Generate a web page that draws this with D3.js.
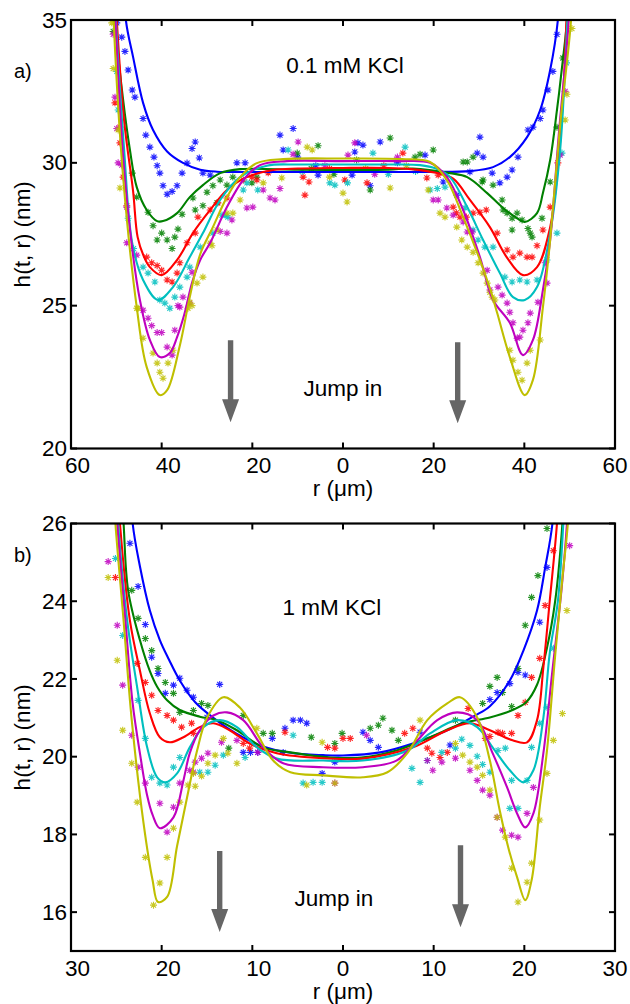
<!DOCTYPE html>
<html>
<head>
<meta charset="utf-8">
<script src="https://cdn.jsdelivr.net/npm/d3@7"></script>
<style>
  body { margin: 0; background: #fff; }
  svg { display: block; }
  text { font-family: "Liberation Sans", Arial, Helvetica, sans-serif; fill: #000; }
</style>
</head>
<body>
<svg id="fig" width="630" height="1004"></svg>
<script>
// ---------- Panel a: 0.1 mM KCl, film thickness h(t, r) vs radius ----------
const aTicksX = [-60, -40, -20, 0, 20, 40, 60];
const aTicksY = [20, 25, 30, 35];

const aBlueFit = [[-49,38],[-47.9,35],[-46.3,33.7],[-44.1,32.1],[-41.9,31.15],[-38.8,30.4],[-35.3,30.0],[-31.5,29.76],[-27.8,29.69],[-20,29.68],[-10,29.68],[0,29.68],[10,29.68],[20,29.68],[28,29.71],[33.1,29.85],[36.8,30.2],[40.6,30.9],[43.5,31.85],[45.7,33.25],[47.4,35],[48.3,38]];
const aGreenFit = [[-51,38],[-50.3,35],[-48.5,32.2],[-47,30.45],[-45.5,29.15],[-43.3,28.35],[-41,27.96],[-39.7,27.96],[-36.6,28.24],[-33.8,28.8],[-30.9,29.22],[-27.1,29.64],[-22.7,29.78],[-10,29.76],[0,29.75],[10,29.76],[15.4,29.8],[23.6,29.64],[27.4,29.5],[31.8,28.94],[35.3,28.42],[38.4,28.06],[40.1,27.93],[42.8,28.24],[44.1,28.94],[45.7,30.1],[47.2,31.85],[48.5,33.6],[49.4,35],[50,38]];
const aRedFit = [[-50.8,38],[-49.9,35],[-48.3,31.5],[-46.3,29.0],[-45.3,27.4],[-44,26.75],[-42.6,26.35],[-40,26.07],[-36.6,26.6],[-33.1,27.54],[-29.3,28.35],[-25.6,29.05],[-21.2,29.5],[-15.4,29.75],[-10,29.8],[0,29.82],[10,29.82],[15,29.78],[20.5,29.65],[24.3,29.45],[28,28.7],[32.4,27.75],[36.1,26.7],[39.7,26.07],[42.8,26.35],[45.7,27.75],[47.4,29.85],[48.5,32.2],[49.3,35],[50,38]];
const aCyanFit = [[-50.9,38],[-50.1,35],[-48.3,30.5],[-46.5,27.2],[-44.1,25.9],[-40.8,25.2],[-37.5,25.65],[-33.8,26.7],[-30.9,27.54],[-27.1,28.7],[-22.7,29.5],[-16.8,29.9],[-10,29.94],[0,29.94],[10,29.94],[17,29.92],[20.5,29.8],[23.6,29.5],[27.4,28.45],[30.9,27.3],[34.6,26.14],[37.5,25.3],[40.1,25.2],[42.8,25.65],[45.7,27.54],[47.9,30.45],[49.5,35],[50.3,38]];
const aMagentaFit = [[-50.9,38],[-50.2,35],[-48.5,30.2],[-46.5,27.0],[-44.8,25.2],[-42.6,23.8],[-40.4,23.2],[-38.2,23.34],[-36.6,23.9],[-35,24.7],[-33.3,25.8],[-31.5,26.6],[-29.3,27.2],[-25.6,28.45],[-22,29.4],[-18.3,29.92],[-12.4,30.06],[0,30.06],[12,30.06],[19.2,30.0],[22.9,29.5],[26.5,28.35],[30.2,26.7],[33.1,25.2],[36.8,24.4],[39.7,23.27],[41.9,23.8],[44.1,25.55],[45.7,27.3],[47.6,31],[49.8,35],[50.5,38]];
const aYellowFit = [[-51.2,38],[-50.6,35],[-48.5,29.5],[-45.5,24.95],[-43.3,22.85],[-40.4,21.87],[-38.8,22.04],[-36,23.6],[-33.8,25.3],[-31.5,26.8],[-28.7,27.75],[-25.6,28.8],[-22.7,29.5],[-19,29.99],[-13.2,30.13],[0,30.15],[13,30.13],[19.2,30.03],[22.9,29.4],[26.5,28.1],[30.2,26.6],[32.4,25.6],[34,24.75],[36.8,23.2],[40.1,21.87],[41.9,22.4],[44.1,24.95],[45.7,27.3],[48,31.5],[50.3,35],[51,38]];

const aBluePts = [[-49.9,34.9],[-48.8,34.4],[-48.1,33.9],[-47.4,33.25],[-46.5,32.55],[-45.9,32.3],[-44.1,31.55],[-43.5,30.97],[-42.6,30.55],[-41.7,30.2],[-41,29.9],[-40.4,29.64],[-39.7,29.2],[-38.8,28.9],[-37.7,29.0],[-36.6,29.2],[-35.5,29.64],[-34.4,29.99],[-33.3,30.5],[-32.6,30.73],[-31.7,30.17],[-30.9,29.64],[-29.3,29.57],[-23.4,30.0],[-21.6,30.0],[-13.9,30.97],[-11,31.2],[-13.2,30.45],[-10,30.2],[-6,29.9],[-5.5,29.57],[2.6,30.38],[3.3,30.7],[2,29.57],[4.4,30.62],[6,29.2],[8.2,30.73],[12,30.0],[18.1,30.27],[22.1,29.33],[25.1,28.87],[28,29.68],[29.6,30.34],[30.2,30.9],[30.9,30.2],[32.9,29.64],[34.6,29.3],[36.2,29.5],[37.3,29.75],[38.6,30.2],[40.8,31.15],[41.9,31.25],[43.5,31.55],[44.1,31.85],[45.2,32.55],[46.3,33.2],[47.2,34.5]];
const aGreenPts = [[-50.7,34.6],[-46.5,29.64],[-45.5,28.8],[-43,28.27],[-41.9,27.8],[-41,27.3],[-40,27.54],[-38.8,27.3],[-37.7,27.0],[-37.1,27.4],[-36.4,27.68],[-35.5,28.2],[-33.1,28.77],[-32.6,28.35],[-30.9,28.5],[-30,28.97],[-28.7,29.2],[-27.8,28.6],[-27.1,29.4],[-25.6,29.22],[-24.3,29.5],[-20.1,29.3],[-19,29.5],[-10.1,30.34],[-5.5,30.6],[-7,29.8],[-2,29.6],[3,30.1],[6,29.05],[10.4,30.87],[15.9,30.2],[17,30.3],[19.9,30.45],[26.5,30.03],[27.4,30.03],[28.7,30.2],[30.7,29.33],[30.9,29.4],[33.1,29.22],[35.1,28.7],[35.3,28.35],[36.2,28.24],[37.3,27.65],[37.3,28.06],[38.4,28.24],[39.5,28.0],[40.8,27.7],[41.3,27.54],[41.7,27.4],[43.9,28.06],[45.7,29.33],[47.2,31.25],[48.5,33.67]];
const aRedPts = [[-50.3,32.1],[-49.2,31.25],[-49.2,30.7],[-48.5,29.5],[-47.7,28.5],[-43.3,26.7],[-42.2,26.5],[-41,26.4],[-40,26.24],[-38.8,25.9],[-37.7,25.83],[-36.6,26.14],[-36,26.5],[-34.4,27.2],[-32.6,27.54],[-32,28.1],[-29.3,28.35],[-27.6,28.6],[-25.6,28.77],[-22,29.4],[-20.1,29.5],[-19,29.4],[-16.5,29.65],[-8.8,29.5],[-7.5,29.33],[-8.4,28.87],[-3,29.8],[0.4,29.4],[5.3,29.3],[9,29.9],[13.2,30.34],[18.5,29.47],[21,29.57],[24.3,28.45],[25,28.25],[25.8,28.1],[27.2,28.1],[28.7,28.24],[30.2,28.27],[31.6,28.35],[34,27.54],[36.2,26.95],[37.5,26.7],[39,26.84],[40.6,26.7],[41.7,26.7],[42.8,27.1],[44.1,27.65],[45.7,28.45],[47.4,30.0]];
const aCyanPts = [[-49.6,31.85],[-49.9,33.2],[-47.4,28.06],[-46.2,27.0],[-44.1,26.35],[-43,26.14],[-41.5,25.83],[-40.4,25.2],[-39.3,25.09],[-38.2,24.91],[-37.1,25.3],[-36,25.65],[-34.4,26.0],[-33.8,26.35],[-31.5,27.05],[-28.7,27.54],[-26.7,28.17],[-26,28.17],[-25.4,28.1],[-22,29.05],[-21.2,29.3],[-18.8,29.05],[-12.1,30.45],[-9,29.7],[-2.9,29.3],[-1.8,29.22],[1,29.3],[6.6,30.34],[10,29.6],[13.7,30.55],[16,29.7],[19.2,29.05],[20.8,29.1],[22.5,29.15],[26.9,28.42],[28.7,27.65],[29.8,27.3],[31.3,27.05],[33.1,27.05],[35.7,26.0],[37.3,25.83],[39,25.9],[40.6,25.83],[42.8,25.9],[45,26.6],[47.2,27.54],[48.3,30.34],[49.3,33.5]];
const aMagentaPts = [[-50.7,34.5],[-50.3,32.3],[-49.9,31.2],[-49.6,30.0],[-48.8,29.92],[-47.7,28.45],[-47.7,27.2],[-45.5,26.77],[-44.1,24.84],[-43,24.56],[-42.2,24.3],[-41,24.06],[-40,24.06],[-38.8,23.55],[-37.7,23.27],[-37.1,24.14],[-36.4,25.0],[-36,24.95],[-35.3,25.3],[-33.8,25.09],[-33.3,26.17],[-27.1,27.6],[-25.6,27.54],[-24.5,28.0],[-21.2,28.42],[-19.9,28.45],[-17.6,29.05],[-16.1,28.77],[-15,28.7],[-13.9,29.1],[-9.9,30.73],[-11,30.3],[-4,29.9],[1.1,30.27],[2.6,30.7],[7,29.6],[12,30.2],[19.9,28.7],[21,28.7],[22.9,28.42],[24.3,28.17],[26.5,27.93],[27.4,27.58],[28.5,27.58],[31.8,26.24],[32.4,25.55],[34.2,25.65],[35.1,25.37],[36.2,25.09],[36.8,24.77],[37.5,24.4],[38.4,23.86],[39,23.9],[39.7,24.14],[40.8,24.4],[41.3,24.74],[43,25.12],[44.6,26.5],[45,25.79],[47.9,30.27],[49,32.5]];
const aYellowPts = [[-51,34.9],[-50.7,33.3],[-49.6,31.15],[-49.2,29.12],[-45.5,24.91],[-45.2,24.91],[-44.1,23.86],[-41.9,23.34],[-41,22.99],[-40.4,22.67],[-39.7,22.46],[-38.6,22.99],[-37.5,23.44],[-34.2,24.91],[-33.8,25.12],[-33.3,25.0],[-32.2,25.79],[-30.9,26.0],[-29.3,27.19],[-28.9,27.1],[-27.8,27.65],[-25.6,28.24],[-24.3,28.24],[-22.7,28.7],[-17.6,29.3],[-13.5,29.47],[-7.9,30.55],[-6.8,30.45],[0,28.94],[0.9,28.63],[-3,29.5],[5,29.8],[10.4,29.12],[14,29.9],[18.8,29.05],[21.4,28.24],[22.5,28.1],[25.1,27.75],[26.2,27.3],[27.4,27.05],[28.7,26.87],[29.8,26.5],[30.9,26.14],[31.8,25.79],[32.4,25.47],[33.5,25.2],[32.9,25.3],[36.8,23.44],[37.5,23.09],[38.6,22.67],[39.5,22.39],[40.6,22.99],[41.3,23.44],[43.5,23.8],[49,31.5],[49.4,32.4],[50.5,34.7]];

// ---------- Panel b: 1 mM KCl ----------
const bTicksX = [-30, -20, -10, 0, 10, 20, 30];
const bTicksY = [16, 18, 20, 22, 24, 26];

const bBlueFit = [[-23.7,28],[-23.2,26],[-22.4,24.9],[-21.3,23.76],[-20.2,23.0],[-19.2,22.5],[-18,21.96],[-16.3,21.4],[-14.3,21.0],[-11.8,20.6],[-8.8,20.26],[-5.8,20.1],[-2.2,20.04],[0,20.03],[4.1,20.11],[7.7,20.34],[11.5,20.68],[14.5,21.05],[16.2,21.3],[18.4,21.96],[19.9,22.73],[21.4,23.76],[22.3,24.87],[23.1,26],[23.6,28]];
const bGreenFit = [[-24.7,28],[-24.2,26],[-23.7,24.28],[-22.4,23],[-21.3,22.2],[-20.5,21.8],[-19.4,21.45],[-18,21.2],[-15.8,21.03],[-13.9,20.94],[-11.7,20.68],[-8.8,20.24],[-5.8,20.11],[-1.4,19.98],[2,19.98],[5.9,20.16],[9.6,20.5],[13.2,20.86],[16.2,21.01],[18.7,21.2],[20.2,21.4],[21.4,21.85],[22.5,22.8],[23.4,24],[24.2,26],[24.6,28]];
const bRedFit = [[-25.1,28],[-24.6,26],[-23.5,23.5],[-22.4,22.22],[-21.3,21.11],[-20.2,20.5],[-19.1,20.37],[-17.6,20.5],[-15.8,20.76],[-14.3,20.86],[-12.5,20.68],[-10.3,20.34],[-7.3,20.09],[-2.2,19.96],[2.2,19.95],[7.7,20.24],[11.5,20.68],[14,20.86],[16.2,20.68],[18.7,20.42],[20.3,20.37],[21.4,20.94],[22.1,22.3],[22.8,24],[23.6,26],[24.1,28]];
const bCyanFit = [[-25.3,28],[-24.8,26],[-23.8,23.5],[-22.7,21.78],[-21.6,20.24],[-20.5,19.47],[-19.6,19.34],[-18.3,19.57],[-16.9,20.24],[-15.4,20.76],[-13.6,20.94],[-11.7,20.76],[-9.5,20.24],[-7.3,19.95],[-2.2,19.9],[2.2,19.9],[7.1,20.16],[9.6,20.6],[12.6,20.94],[14.8,20.76],[16.5,20.24],[18.4,19.65],[19.9,19.34],[21,19.65],[22.1,21.0],[22.8,22.66],[23.7,24],[24.3,26],[24.7,28]];
const bMagentaFit = [[-25.4,28],[-24.9,26],[-24,23.5],[-23.2,21.37],[-22.4,20.09],[-21.6,19.0],[-21,18.5],[-20.2,18.16],[-18.7,18.44],[-17.6,19.39],[-16.9,20.09],[-15.8,20.68],[-14.3,21.06],[-12.8,21.14],[-11,20.94],[-8.8,20.24],[-6.6,19.83],[-2.2,19.73],[2.2,19.73],[5.9,19.9],[8.2,20.42],[10.4,20.94],[12.6,21.14],[14.8,20.94],[16.5,20.09],[18.1,19.21],[19.2,18.54],[20.1,18.18],[21,18.54],[22.1,20.09],[23.1,22.22],[24.1,24.3],[24.7,26],[25.1,28]];
const bYellowFit = [[-25.6,28],[-25.1,26],[-24.2,23.5],[-23.3,20.94],[-22,18.29],[-21,16.82],[-20.4,16.26],[-19.4,16.39],[-18.3,17.7],[-17.2,18.95],[-16.1,20.15],[-15,21.0],[-13.2,21.53],[-11.4,21.27],[-9.5,20.6],[-7.7,19.9],[-5.8,19.6],[-2.2,19.52],[2.2,19.47],[4.9,19.6],[7.1,20.09],[9.3,20.94],[11.5,21.37],[12.9,21.53],[14.8,21.01],[16.2,19.9],[17.3,18.6],[18.3,17.6],[19.2,16.9],[20.1,16.31],[20.8,16.82],[21.7,18.7],[22.5,20.16],[23.4,22.6],[24.2,24.6],[24.8,26],[25.2,28]];

const bBluePts = [[-23.5,25.49],[-22.6,24.38],[-21.8,23.4],[-21.1,22.56],[-20.4,22.14],[-19.6,21.63],[-18.7,21.84],[-18,22.02],[-17.2,21.71],[-16.5,21.53],[-15,21.01],[-13.6,21.86],[-11,20.11],[-10.2,20.11],[-9.4,20.11],[-7.8,20.47],[-6.6,20.11],[-6.4,20.73],[-5.5,20.94],[-4.7,20.94],[-4,20.86],[-2.3,19.57],[-0.9,19.86],[2.2,20.63],[3,20.42],[3.9,20.24],[8.5,20.63],[11.8,20.3],[16.2,21.47],[17,21.65],[18.4,21.88],[19.3,22.17],[20.1,22.1],[21.7,23.46],[22.5,24.87]];
const bGreenPts = [[-23.3,24.28],[-22.6,23.56],[-21.8,23.04],[-21.1,22.73],[-20.4,22.27],[-19.6,21.91],[-18.7,21.63],[-18,21.14],[-16.5,21.19],[-15.6,21.37],[-14.9,21.32],[-11,21.06],[-12.6,20.22],[-8.8,20.6],[-7.8,20.6],[-3.5,20.5],[-0.9,20.34],[-0.1,20.6],[3,20.73],[3.9,20.81],[4.4,20.99],[5.4,20.68],[6.1,20.42],[12.4,20.94],[15.4,21.37],[16.2,21.81],[17,22.04],[17.6,21.65],[18.6,21.29],[19.3,22.27],[20.1,23.38],[20.8,24.1],[21.5,24.66],[22.5,25.87]];
const bRedPts = [[-25.1,24.61],[-22.7,22.4],[-21.8,21.91],[-21.1,21.58],[-20.4,21.19],[-19.4,21.06],[-18.7,20.94],[-17.8,20.76],[-16.7,20.86],[-16.5,20.6],[-11,20.34],[-10.3,20.22],[-6.4,20.63],[-1.7,20.24],[-0.9,20.22],[0,20.47],[0.8,20.47],[6.8,20.6],[7.7,20.73],[9.3,20.22],[9.8,20.09],[10.7,19.98],[11.5,20.11],[13.8,21.24],[15.7,20.47],[16.2,20.52],[17.1,20.63],[17.6,20.6],[18.6,20.6],[19.3,21.06],[20.1,21.4],[20.8,22.04],[21.7,22.53],[22.3,23.89],[23.2,25.3]];
const bCyanPts = [[-25.1,25.1],[-24.3,23.12],[-22.6,21.45],[-21.8,20.47],[-21.1,19.47],[-20.2,19.32],[-19.4,19.27],[-18.7,19.73],[-18,19.98],[-15.8,19.6],[-14.9,19.6],[-14.1,19.78],[-13.2,20.04],[-10.8,19.98],[-5.5,20.55],[-4.4,19.32],[-3.3,19.34],[-2.3,19.34],[7.6,19.7],[8.5,19.34],[9.3,19.9],[10.9,20.11],[12.4,20.22],[13.1,20.45],[14,20.29],[14.8,20.01],[15.4,19.8],[16.2,19.6],[17.1,20.16],[17.9,20.22],[18.4,18.67],[18.6,19.39],[19.3,18.67],[20.3,19.39],[20.8,20.24],[21.7,20.86],[22.5,21.27],[23.2,22.79]];
const bMagentaPts = [[-25.9,25.02],[-24.9,23.38],[-24.3,21.84],[-23.3,20.55],[-22.6,19.73],[-21.8,19.32],[-20.2,18.8],[-19.4,18.06],[-18.7,18.7],[-18,19.32],[-16.9,19.65],[-16.5,19.6],[-16.3,19.86],[-15.6,19.96],[-14.9,20.09],[-13.4,20.37],[-11.7,20.42],[-9.4,20.11],[-0.9,19.32],[2.6,20.55],[9.3,19.9],[9.9,19.65],[10.9,19.86],[12.4,19.96],[14,19.65],[14.8,19.39],[15.4,19.14],[16.2,19.01],[17,18.44],[17.6,18.11],[18.6,17.98],[19.3,17.93],[20.3,18.54],[21,19.21],[25,25.43]];
const bYellowPts = [[-25.9,24.61],[-24.9,22.48],[-24.3,20.68],[-23.3,19.83],[-22.7,18.83],[-21.8,17.41],[-20.9,16.18],[-20.2,16.75],[-19.4,17.41],[-18.7,18.16],[-18,18.83],[-17.1,19.27],[-16.5,19.57],[-16.3,19.24],[-15.6,19.5],[-14.9,19.83],[-14.1,20.04],[-13.2,20.47],[-12.7,20.09],[-11.7,19.83],[-9.5,20.73],[-4,19.27],[-2.3,20.37],[-0.9,19.32],[8.5,20.94],[12.4,20.34],[13.2,20.04],[14,19.86],[14.8,19.73],[15.4,19.52],[16.2,19.14],[17,18.44],[17.9,17.93],[18.6,17.13],[19.3,16.26],[20.3,16.77],[20.8,17.26],[21.7,18.37],[22.5,19.57],[23.2,20.42],[24.2,21.11],[24.7,23.76]];

// "Jump in" arrows: [r, shaft top h, tip h]
const aArrows = [[-24.8, 23.79, 20.92], [25.3, 23.72, 20.88]];
const bArrows = [[-13.6, 17.57, 15.49], [12.96, 17.72, 15.61]];

const seriesColors = ["#0000ff", "#008000", "#ff0000", "#00bfbf", "#bf00bf", "#bfbf00"];

const panels = [
  {
    id: "a", tag: "a)", salt: "0.1 mM KCl",
    xDomain: [-60, 60], yDomain: [20, 35], ticksX: aTicksX, ticksY: aTicksY,
    top: 20, bottom: 448.5,
    fits: [aBlueFit, aGreenFit, aRedFit, aCyanFit, aMagentaFit, aYellowFit],
    pts: [aBluePts, aGreenPts, aRedPts, aCyanPts, aMagentaPts, aYellowPts],
    arrows: aArrows, saltY: 73, jumpY: 396, jumpX: 343, saltX: 345, tagY: 78
  },
  {
    id: "b", tag: "b)", salt: "1 mM KCl",
    xDomain: [-30, 30], yDomain: [15, 26], ticksX: bTicksX, ticksY: bTicksY,
    top: 523.5, bottom: 951,
    fits: [bBlueFit, bGreenFit, bRedFit, bCyanFit, bMagentaFit, bYellowFit],
    pts: [bBluePts, bGreenPts, bRedPts, bCyanPts, bMagentaPts, bYellowPts],
    arrows: bArrows, saltY: 615, jumpY: 906, jumpX: 334, saltX: 332, tagY: 562
  }
];

const svg = d3.select("#fig");
const left = 71, right = 615;
const FS = 22.5;

// asterisk marker (plus + cross)
const star = "M-3.5,0H3.5M0,-3.5V3.5M-2.5,-2.5L2.5,2.5M-2.5,2.5L2.5,-2.5";

panels.forEach(p => {
  const x = d3.scaleLinear().domain(p.xDomain).range([left, right]);
  const y = d3.scaleLinear().domain(p.yDomain).range([p.bottom, p.top]);
  const g = svg.append("g");

  g.append("clipPath").attr("id", "clip-" + p.id)
    .append("rect").attr("x", left).attr("y", p.top)
    .attr("width", right - left).attr("height", p.bottom - p.top);

  const plot = g.append("g").attr("clip-path", `url(#clip-${p.id})`);

  // measured points
  p.pts.forEach((pts, i) => {
    plot.append("g").selectAll("path").data(pts).join("path")
      .attr("d", star)
      .attr("transform", d => `translate(${x(d[0])},${y(d[1])})`)
      .attr("fill", "none")
      .attr("stroke", seriesColors[i])
      .attr("stroke-width", 1.1)
      .attr("stroke-opacity", 0.85);
  });

  // fitted profiles
  const line = d3.line().x(d => x(d[0])).y(d => y(d[1])).curve(d3.curveCatmullRom.alpha(0.5));
  p.fits.forEach((fit, i) => {
    plot.append("path").datum(fit)
      .attr("d", line)
      .attr("fill", "none")
      .attr("stroke", seriesColors[i])
      .attr("stroke-width", 2.1)
      .attr("stroke-linejoin", "round");
  });

  // arrows
  p.arrows.forEach(a => {
    const cx = x(a[0]), y0 = y(a[1]), yt = y(a[2]);
    const hl = 23, hw = 8.5, sw = 2.7;
    g.append("path")
      .attr("d", `M${cx - sw},${y0}H${cx + sw}V${yt - hl}H${cx + hw}L${cx},${yt}L${cx - hw},${yt - hl}H${cx - sw}Z`)
      .attr("fill", "#666666");
  });

  // box + inward ticks
  g.append("rect").attr("x", left).attr("y", p.top)
    .attr("width", right - left).attr("height", p.bottom - p.top)
    .attr("fill", "none").attr("stroke", "#000").attr("stroke-width", 2.2);

  const tl = 6;
  p.ticksX.forEach(t => {
    g.append("line").attr("x1", x(t)).attr("x2", x(t)).attr("y1", p.bottom).attr("y2", p.bottom - tl)
      .attr("stroke", "#000").attr("stroke-width", 2);
    g.append("line").attr("x1", x(t)).attr("x2", x(t)).attr("y1", p.top).attr("y2", p.top + tl)
      .attr("stroke", "#000").attr("stroke-width", 2);
    // labels show |r|; the left-hand ones sit where the (dropped) minus sign left room
    g.append("text").attr("x", x(t) + (t < 0 ? 6.5 : 0)).attr("y", p.bottom + 24.5)
      .attr("text-anchor", "middle").attr("font-size", FS).text(Math.abs(t));
  });
  p.ticksY.forEach(t => {
    g.append("line").attr("x1", left).attr("x2", left + tl).attr("y1", y(t)).attr("y2", y(t))
      .attr("stroke", "#000").attr("stroke-width", 2);
    g.append("line").attr("x1", right).attr("x2", right - tl).attr("y1", y(t)).attr("y2", y(t))
      .attr("stroke", "#000").attr("stroke-width", 2);
    g.append("text").attr("x", 67).attr("y", y(t)).attr("dy", "0.34em")
      .attr("text-anchor", "end").attr("font-size", FS).text(t);
  });

  // labels
  g.append("text").attr("x", 343).attr("y", p.bottom + 47.5)
    .attr("text-anchor", "middle").attr("font-size", FS).text("r (\u03bcm)");
  g.append("text")
    .attr("transform", `translate(30,${(p.top + p.bottom) / 2}) rotate(-90)`)
    .attr("text-anchor", "middle").attr("font-size", FS).text("h(t, r) (nm)");
  g.append("text").attr("x", 14).attr("y", p.tagY).attr("font-size", 20).text(p.tag);
  g.append("text").attr("x", p.saltX).attr("y", p.saltY)
    .attr("text-anchor", "middle").attr("font-size", FS).text(p.salt);
  g.append("text").attr("x", p.jumpX).attr("y", p.jumpY)
    .attr("text-anchor", "middle").attr("font-size", FS).text("Jump in");
});
</script>
</body>
</html>
